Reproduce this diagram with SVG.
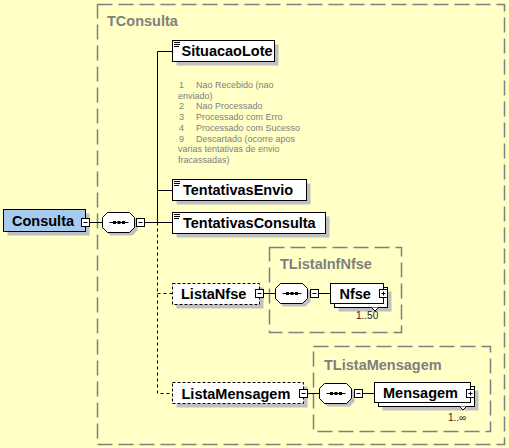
<svg xmlns="http://www.w3.org/2000/svg" xmlns:xlink="http://www.w3.org/1999/xlink" width="509" height="448" viewBox="0 0 509 448">
<style>
.bg{fill:#FFFFC6}
.type{fill:none;stroke:#808080;stroke-width:1.5;stroke-dasharray:15,6}
.tlabel{font-family:"Liberation Sans",Arial,sans-serif;font-weight:bold;font-size:14.5px;fill:#808080}
.lbl{font-family:"Liberation Sans",Arial,sans-serif;font-weight:bold;font-size:14.5px;fill:#000}
.box{fill:#fff;stroke:#000;stroke-width:1}
.gbox{fill:#A6CAF0;stroke:#000;stroke-width:1}
.opt{fill:#fff;stroke:#000;stroke-width:1;stroke-dasharray:3,2}
.sh{fill:#C0C0C0}
.btn{fill:#fff;stroke:#000;stroke-width:1}
.ln{fill:none;stroke:#000;stroke-width:1}
.dln{fill:none;stroke:#000;stroke-width:1;stroke-dasharray:3,3}
.ann{font-family:"Liberation Sans",Arial,sans-serif;font-size:9px;fill:#808080}
.occ{font-family:"Liberation Sans",Arial,sans-serif;font-size:10px;fill:#202030}
</style>
<defs>
<g id="icon"><path d="M1.5,2h6M1.5,4h6M1.5,6h5" stroke="#000" stroke-width="1" fill="none"/></g>
<g id="minus"><rect class="btn" x="0" y="0" width="8" height="8"/><path d="M2,4h4" stroke="#000" stroke-width="1"/></g>
<g id="plus"><rect class="btn" x="0" y="0" width="8" height="8"/><path d="M2,4h4M4,2v4" stroke="#000" stroke-width="1"/></g>
<g id="seq">
<polygon class="sh" points="8,3 30,3 35,8 35,18 30,23 8,23 3,18 3,8"/>
<polygon class="box" points="5,0 27,0 32,5 32,15 27,20 5,20 0,15 0,5"/>
<path d="M7,10h19" stroke="#000" stroke-width="1"/>
<rect x="10.5" y="8.5" width="3" height="3" fill="#000"/>
<rect x="15" y="8.5" width="3" height="3" fill="#000"/>
<rect x="19.5" y="8.5" width="3" height="3" fill="#000"/>
</g>
</defs>
<rect class="bg" x="0" y="0" width="509" height="448"/>

<g id="TConsulta">
<rect class="type" x="97.5" y="4.5" width="407" height="440"/>
<text class="tlabel" x="107" y="26">TConsulta</text>
</g>
<g id="TListaInfNfse">
<rect class="type" x="269.5" y="247.5" width="132" height="85"/>
<text class="tlabel" x="280" y="268.5">TListaInfNfse</text>
</g>
<g id="TListaMensagem">
<rect class="type" x="313.5" y="346.5" width="177" height="85"/>
<text class="tlabel" x="324" y="369.5">TListaMensagem</text>
</g>

<g id="connectors">
<path class="ln" d="M90,222.5H102.5"/>
<path class="ln" d="M145,222.5H172.5"/>
<path class="ln" d="M157.5,51.5V222.5"/>
<path class="ln" d="M157.5,51.5H172.5"/>
<path class="ln" d="M157.5,190.5H172.5"/>
<path class="dln" d="M157.5,222.5V393.5H172.5"/>
<path class="dln" d="M157.5,293.5H172.5"/>
<path class="ln" d="M264,293.5H275.5"/>
<path class="ln" d="M319,293.5H330.5"/>
<path class="ln" d="M308,393.5H319.5"/>
<path class="ln" d="M363,393.5H374.5"/>
</g>

<g id="Consulta">
<rect class="sh" x="7.5" y="213.5" width="82" height="22"/>
<rect class="gbox" x="3.5" y="209.5" width="82" height="22"/>
<text class="lbl" x="12" y="226">Consulta</text>
<use xlink:href="#minus" href="#minus" x="81.5" y="218.5"/>
</g>
<g id="seq1">
<use xlink:href="#seq" href="#seq" x="102.5" y="212.5"/>
<use xlink:href="#minus" href="#minus" x="136.5" y="218.5"/>
</g>
<g id="SituacaoLote">
<rect class="sh" x="176.5" y="44.5" width="102" height="21"/>
<rect class="box" x="172.5" y="40.5" width="102" height="21"/>
<use xlink:href="#icon" href="#icon" x="172.5" y="40.5"/>
<text class="lbl" x="181.5" y="56">SituacaoLote</text>
</g>
<g id="annotation">
<text class="ann" x="179" y="88">1</text><text class="ann" x="196" y="88">Nao Recebido (nao</text>
<text class="ann" x="178" y="98.7">enviado)</text>
<text class="ann" x="179" y="109.4">2</text><text class="ann" x="196" y="109.4">Nao Processado</text>
<text class="ann" x="179" y="120.1">3</text><text class="ann" x="196" y="120.1">Processado com Erro</text>
<text class="ann" x="179" y="130.8">4</text><text class="ann" x="196" y="130.8">Processado com Sucesso</text>
<text class="ann" x="179" y="141.5">9</text><text class="ann" x="196" y="141.5">Descartado (ocorre apos</text>
<text class="ann" x="178" y="152.2">varias tentativas de envio</text>
<text class="ann" x="178" y="162.9">fracassadas)</text>
</g>
<g id="TentativasEnvio">
<rect class="sh" x="176.5" y="183.5" width="134" height="21"/>
<rect class="box" x="172.5" y="179.5" width="134" height="21"/>
<use xlink:href="#icon" href="#icon" x="172.5" y="179.5"/>
<text class="lbl" x="183" y="195">TentativasEnvio</text>
</g>
<g id="TentativasConsulta">
<rect class="sh" x="176.5" y="216.5" width="153" height="21"/>
<rect class="box" x="172.5" y="212.5" width="153" height="21"/>
<use xlink:href="#icon" href="#icon" x="172.5" y="212.5"/>
<text class="lbl" x="183" y="228">TentativasConsulta</text>
</g>
<g id="ListaNfse">
<rect class="sh" x="176.5" y="287.5" width="87" height="21"/>
<rect class="opt" x="172.5" y="283.5" width="87" height="21"/>
<text class="lbl" x="181" y="299">ListaNfse</text>
<use xlink:href="#minus" href="#minus" x="255.5" y="289.5"/>
</g>
<g id="seq2">
<use xlink:href="#seq" href="#seq" x="275.5" y="283.5"/>
<use xlink:href="#minus" href="#minus" x="310.5" y="289.5"/>
</g>
<g id="Nfse">
<rect class="sh" x="338.5" y="291.5" width="53" height="20"/>
<rect class="box" x="334.5" y="287.5" width="53" height="20"/>
<rect class="box" x="330.5" y="283.5" width="53" height="20"/>
<text class="lbl" x="339.5" y="298.5">Nfse</text>
<use xlink:href="#plus" href="#plus" x="379.5" y="289.5"/>
<path d="M371.5,307.5L375,311L378.5,307.5" fill="#fff" stroke="#000" stroke-width="1"/>
<text class="occ" x="356" y="318.5">1..50</text>
</g>
<g id="ListaMensagem">
<rect class="sh" x="176.5" y="386.5" width="131" height="21"/>
<rect class="opt" x="172.5" y="382.5" width="131" height="21"/>
<text class="lbl" x="181.5" y="398.5">ListaMensagem</text>
<use xlink:href="#minus" href="#minus" x="299.5" y="389.5"/>
</g>
<g id="seq3">
<use xlink:href="#seq" href="#seq" x="319.5" y="383.5"/>
<use xlink:href="#minus" href="#minus" x="354.5" y="389.5"/>
</g>
<g id="Mensagem">
<rect class="sh" x="382.5" y="390.5" width="96" height="20"/>
<rect class="box" x="378.5" y="386.5" width="96" height="20"/>
<rect class="box" x="374.5" y="382.5" width="96" height="20"/>
<text class="lbl" x="383" y="398">Mensagem</text>
<use xlink:href="#plus" href="#plus" x="466.5" y="389.5"/>
<path d="M459.5,406.5L463,410L466.5,406.5" fill="#fff" stroke="#000" stroke-width="1"/>
<text class="occ" x="448" y="420.5">1..∞</text>
</g>
</svg>
